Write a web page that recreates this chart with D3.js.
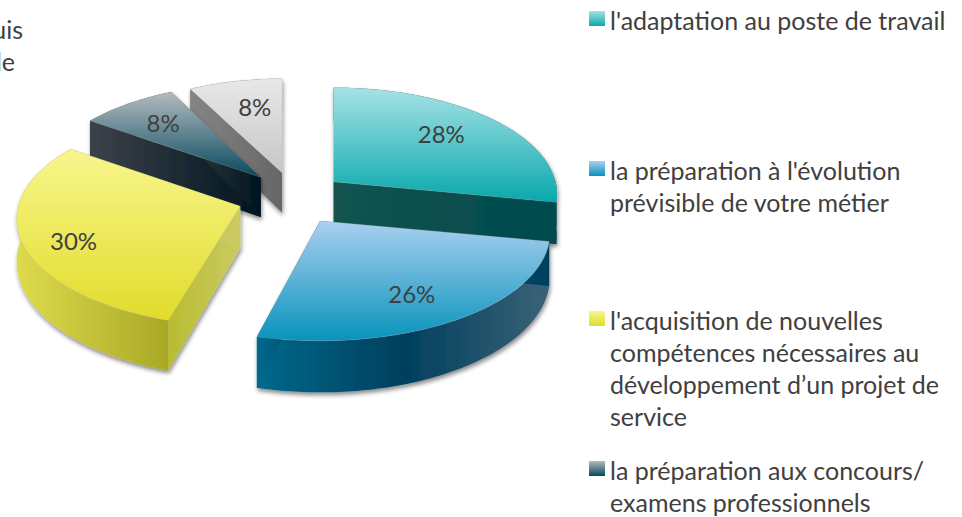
<!DOCTYPE html>
<html>
<head>
<meta charset="utf-8">
<script src="https://cdn.jsdelivr.net/npm/d3@7"></script>
<style>
  html, body { margin: 0; padding: 0; background: #fff; overflow: hidden; }
  text { font-family: Lato, "Open Sans", sans-serif; fill: #404040; }
</style>
</head>
<body>
<div id="chart"></div>
<script>
// values, clockwise from 12 o'clock
const values = [28, 26, 30, 8, 8]
const pctLabels = ['28%', '26%', '30%', '8%', '8%']
const legendLines = [
  ["l'adaptation au poste de travail"],
  ["la préparation à l'évolution", 'prévisible de votre métier'],
  ["l'acquisition de nouvelles", 'compétences nécessaires au', 'développement d’un projet de', 'service'],
  ['la préparation aux concours/', 'examens professionnels']
]
const cutOffText = ['uis', 'le']

const topColors = [['#a6e2e6', '#08a8ac'], ['#a9d0f0', '#0893bc'], ['#f8f68e', '#e1dc2a'], ['#b3bcbf', '#08485e'], ['#e8e8e8', '#c6c6c6']]
const rimColors = [['#0c5552', '#004a4e'], ['#00698c', '#003f5e', '#3b6276'], ['#dedb4c', '#a9a826'], ['#3a4048', '#001822'], ['#808080', '#666666']]
const cutColors = [['#13534f', '#004a4e'], ['#00698c', '#003f5e'], ['#b8bc30', '#cbcb62'], ['#3c4149', '#00151f'], ['#858585', '#666666']]

// layout of the perspective pie
const width = 962
const height = 517
const cx = 295
const cy = 199
const sliceRx = [222, 228, 222, 222, 213]
const ry = 107
const persp = 0.12
const explodeX = [50, 47, 58, 52, 52]
const explodeY = [27, 26, 22, 29, 27]
const sliceTurn = [0, 0, 2.5, 2, 0] // degrees, the drawing is not quite regular
const labelRadius = [0.67, 0.7, 0.78, 0.69, 0.66]
const labelShift = [[-1, -4], [0, 5], [2, 7], [-3, -2], [5, -3]]
const drawOrder = [4, 3, 0, 2, 1]

const svg = d3.select('#chart')
  .append('svg')
  .attr('width', width)
  .attr('height', height)
  .attr('viewBox', '0 0 ' + width + ' ' + height)

const defs = svg.append('defs')

const shadow = defs.append('filter')
  .attr('id', 'shadow')
  .attr('x', '-10%').attr('y', '-10%')
  .attr('width', '120%').attr('height', '130%')
shadow.append('feDropShadow')
  .attr('dx', 1)
  .attr('dy', 3)
  .attr('stdDeviation', 2)
  .attr('flood-color', '#000')
  .attr('flood-opacity', 0.45)

function addGradient (id, colors, vertical) {
  const grad = defs.append('linearGradient')
    .attr('id', id)
    .attr('x1', 0).attr('y1', 0)
    .attr('x2', vertical ? 0 : 1).attr('y2', vertical ? 1 : 0)
  colors.forEach((c, i) => {
    grad.append('stop')
      .attr('offset', i / (colors.length - 1))
      .attr('stop-color', c)
  })
}

values.forEach((v, i) => {
  addGradient('top' + i, topColors[i], true)
  addGradient('rim' + i, rimColors[i], false)
  addGradient('cut' + i, cutColors[i], false)
})

const arcs = d3.pie().sort(null).value(d => d)(values)
  .map((d, i) => {
    const turn = sliceTurn[i] * Math.PI / 180
    return {
      index: i,
      startAngle: d.startAngle + turn,
      endAngle: d.endAngle + turn
    }
  })

// theta clockwise from 12 o'clock, r is a fraction of the radius
function project (d, theta, r) {
  const mid = (d.startAngle + d.endAngle) / 2
  const ax = cx + explodeX[d.index] * Math.sin(mid)
  const ay = cy - explodeY[d.index] * Math.cos(mid)
  const s = 1 - persp * r * Math.cos(theta)
  return [
    ax + sliceRx[d.index] * r * Math.sin(theta) * s,
    ay - ry * r * Math.cos(theta) * s
  ]
}

// the extruded wall gets taller towards the viewer
function lower (p) {
  return [p[0], p[1] + 41 + 0.07 * (p[1] - 190)]
}

function arcPoints (d) {
  const step = Math.PI / 180
  return d3.range(d.startAngle, d.endAngle, step)
    .concat([d.endAngle])
    .map(t => project(d, t, 1))
}

const line = d3.line().curve(d3.curveLinear)

const slices = svg.selectAll('.slice')
  .data(drawOrder.map(i => ({arc: arcs[i], i: i})))
  .enter()
  .append('g')
  .attr('class', 'slice')
  .attr('filter', 'url(#shadow)')

// outer wall
slices.append('path')
  .attr('d', d => {
    const pts = arcPoints(d.arc)
    return line(pts.concat(pts.map(lower).reverse())) + 'Z'
  })
  .attr('fill', d => 'url(#rim' + d.i + ')')

// the two cut walls
;['startAngle', 'endAngle'].forEach(key => {
  slices.append('path')
    .attr('d', d => {
      const apex = project(d.arc, d.arc[key], 0)
      const edge = project(d.arc, d.arc[key], 1)
      return line([apex, edge, lower(edge), lower(apex)]) + 'Z'
    })
    .attr('fill', d => 'url(#cut' + d.i + ')')
})

// top face
slices.append('path')
  .attr('d', d => line([project(d.arc, 0, 0)].concat(arcPoints(d.arc))) + 'Z')
  .attr('fill', d => 'url(#top' + d.i + ')')
  .attr('stroke', '#b8b8a8')
  .attr('stroke-opacity', 0.45)
  .attr('stroke-width', 0.6)

// percent labels, above all the slices
function labelPos (d, i) {
  const p = project(d, (d.startAngle + d.endAngle) / 2, labelRadius[i])
  return [p[0] + labelShift[i][0], p[1] + labelShift[i][1]]
}

svg.selectAll('.pct')
  .data(arcs)
  .enter()
  .append('text')
  .attr('class', 'pct')
  .attr('text-anchor', 'middle')
  .attr('font-size', 24)
  .attr('x', (d, i) => labelPos(d, i)[0])
  .attr('y', (d, i) => labelPos(d, i)[1] + 9)
  .text((d, i) => pctLabels[i])

// legend, the fifth entry falls out of the picture
const legendY = d3.scaleLinear().domain([0, 1]).range([11, 161])
const legend = svg.selectAll('.legend')
  .data(legendLines)
  .enter()
  .append('g')
  .attr('class', 'legend')
  .attr('transform', (d, i) => 'translate(589,' + legendY(i) + ')')

legend.append('rect')
  .attr('width', 16)
  .attr('height', 15)
  .attr('fill', (d, i) => 'url(#top' + i + ')')

legend.selectAll('text')
  .data(d => d)
  .enter()
  .append('text')
  .attr('x', 21)
  .attr('y', (d, i) => 19 + i * 32)
  .attr('font-size', 25)
  .text(d => d)

// text cut off by the left edge
svg.selectAll('.cut')
  .data(cutOffText)
  .enter()
  .append('text')
  .attr('class', 'cut')
  .attr('text-anchor', 'end')
  .attr('x', (d, i) => i === 0 ? 23 : 15)
  .attr('y', (d, i) => 39 + i * 32)
  .attr('font-size', 25)
  .text(d => d)
</script>
</body>
</html>
